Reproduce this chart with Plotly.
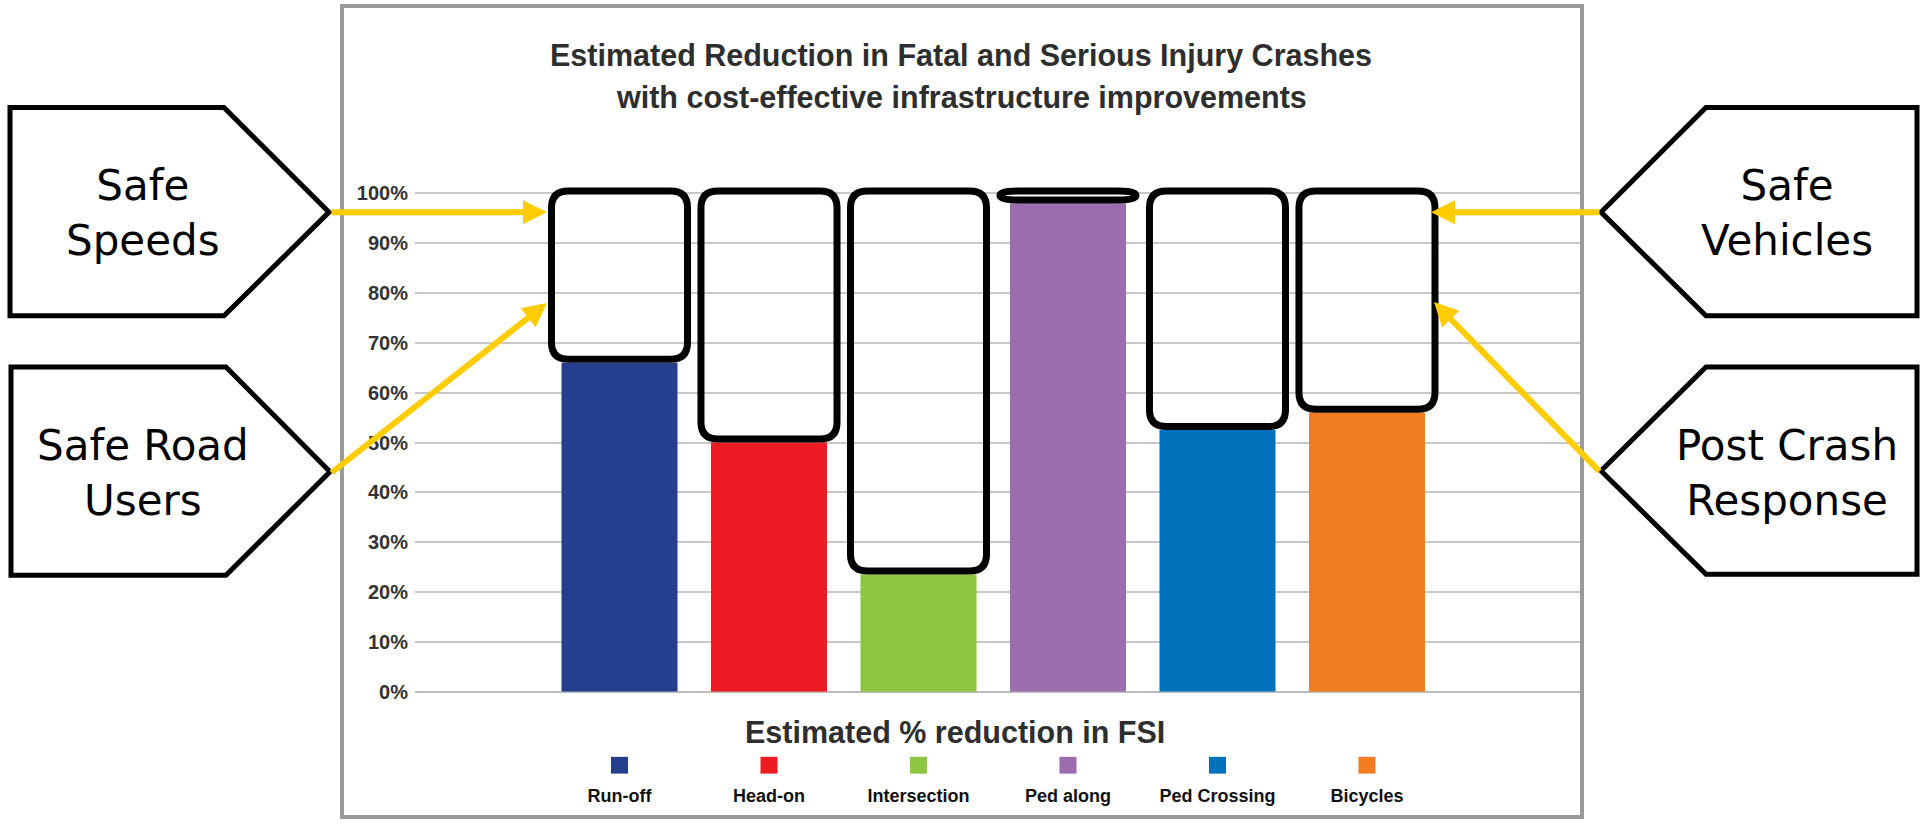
import plotly.graph_objects as go

# ---------------- data ----------------
categories = ["Run-off", "Head-on", "Intersection", "Ped along", "Ped Crossing", "Bicycles"]
reduction = [0.66, 0.50, 0.235, 0.98, 0.525, 0.56]
bar_colors = ["#253F8E", "#ED1C24", "#8DC63F", "#9B6CAE", "#0072BC", "#F27C22"]
y_ticks = [0.0, 0.1, 0.2, 0.3, 0.4, 0.5, 0.6, 0.7, 0.8, 0.9, 1.0]
title_lines = ["Estimated Reduction in Fatal and Serious Injury Crashes",
               "with cost-effective infrastructure improvements"]
x_title = "Estimated % reduction in FSI"
pillars_left = ["Safe<br>Speeds", "Safe Road<br>Users"]
pillars_right = ["Safe<br>Vehicles", "Post Crash<br>Response"]

W, H = 1920, 830
CHART_FONT = "Liberation Sans"
BOX_FONT = "DejaVu Sans"


def px(x):
    return x / W


def py(y):
    return 1 - y / H


positions = list(range(len(categories)))

fig = go.Figure()

fig.add_trace(go.Bar(
    x=positions, y=reduction, marker=dict(color=bar_colors, line=dict(width=0)),
    width=0.776, hoverinfo="skip", showlegend=False,
))

shapes = []

# chart frame
shapes.append(dict(type="rect", xref="paper", yref="paper",
                   x0=px(342), x1=px(1582), y0=py(828), y1=py(6),
                   line=dict(color="#9a9a9a", width=4), fillcolor="rgba(0,0,0,0)", layer="below"))

# legend swatches above the category names
sw = 0.057
for p, c in zip(positions, bar_colors):
    shapes.append(dict(type="rect", xref="x", yref="paper",
                       x0=p - sw, x1=p + sw, y0=py(784), y1=py(767),
                       line=dict(width=0), fillcolor=c, layer="above"))

# rounded boxes covering the remaining gap to 100%
half_w = 0.455
rx, ry_full = 0.114, 0.0337
top = 1.005
for p, v in zip(positions, reduction):
    x0, x1 = p - half_w, p + half_w
    y0, y1 = v + 0.007, top
    ry = min(ry_full, (y1 - y0) / 2)
    path = (f"M {x0 + rx},{y0} L {x1 - rx},{y0} Q {x1},{y0} {x1},{y0 + ry} "
            f"L {x1},{y1 - ry} Q {x1},{y1} {x1 - rx},{y1} L {x0 + rx},{y1} "
            f"Q {x0},{y1} {x0},{y1 - ry} L {x0},{y0 + ry} Q {x0},{y0} {x0 + rx},{y0} Z")
    shapes.append(dict(type="path", xref="x", yref="y", path=path,
                       line=dict(color="black", width=7), fillcolor="rgba(0,0,0,0)", layer="above"))


def pentagon(points):
    d = "M " + " L ".join(f"{px(x)},{py(y)}" for x, y in points) + " Z"
    return dict(type="path", xref="paper", yref="paper", path=d,
                line=dict(color="black", width=5), fillcolor="white", layer="above")


left_boxes = [[(10, 109), (224, 109), (329, 215), (224, 320), (10, 320)],
              [(11, 372), (226, 372), (330, 478), (226, 583), (11, 583)]]
right_boxes = [[(1601, 215), (1706, 109), (1917, 109), (1917, 320), (1706, 320)],
               [(1601, 477), (1706, 372), (1917, 372), (1917, 582), (1706, 582)]]
for pts in left_boxes + right_boxes:
    shapes.append(pentagon(pts))

annotations = []

# two-line chart title
for txt, cy in zip(title_lines, [56.5, 98.5]):
    annotations.append(dict(xref="paper", yref="paper", x=px(961), y=py(cy),
                            text=txt, showarrow=False, xanchor="center", yanchor="middle",
                            font=dict(family=CHART_FONT, size=30.5, color="#2e2e2e", weight=700)))

# axis title between the axis and the legend
annotations.append(dict(xref="paper", yref="paper", x=px(955), y=py(742),
                        text=x_title, showarrow=False, xanchor="center", yanchor="middle",
                        font=dict(family=CHART_FONT, size=30.5, color="#2e2e2e", weight=700)))

# pillar labels
for txt, cy in zip(pillars_left, [216, 479]):
    annotations.append(dict(xref="paper", yref="paper", x=px(143), y=py(cy), text=txt,
                            showarrow=False, xanchor="center", yanchor="middle",
                            font=dict(family=BOX_FONT, size=42, color="black")))
for txt, cy in zip(pillars_right, [216, 479]):
    annotations.append(dict(xref="paper", yref="paper", x=px(1787), y=py(cy), text=txt,
                            showarrow=False, xanchor="center", yanchor="middle",
                            font=dict(family=BOX_FONT, size=42, color="black")))

# yellow arrows (tail -> head)
arrows = [((330, 215), (547, 215)), ((330, 478), (547, 307)),
          ((1601, 215), (1431, 215)), ((1601, 477), (1434, 306))]
for (tx, ty), (hx, hy) in arrows:
    annotations.append(dict(xref="paper", yref="paper", x=px(hx), y=py(hy),
                            ax=tx - hx, ay=ty - hy, axref="pixel", ayref="pixel",
                            text="", showarrow=True, arrowhead=2, arrowsize=0.8,
                            arrowwidth=6, arrowcolor="#FFCC00", standoff=0, startstandoff=0))

fig.update_layout(
    width=W, height=H,
    margin=dict(l=0, r=0, t=0, b=0),
    paper_bgcolor="white", plot_bgcolor="white",
    showlegend=False,
    xaxis=dict(domain=[px(415), px(1580)], range=[-1.368, 6.425],
               showgrid=False, zeroline=False, showline=False,
               tickmode="array", tickvals=positions, ticktext=categories,
               ticks="", ticklabelstandoff=91,
               tickfont=dict(family=CHART_FONT, size=18, color="#111111", weight=700),
               fixedrange=True),
    yaxis=dict(domain=[py(701), py(175.8)], range=[0, 1.04],
               tickmode="array", tickvals=y_ticks, tickformat=".0%",
               showgrid=True, gridcolor="#c8c8c8", gridwidth=2,
               zeroline=True, zerolinecolor="#bdbdbd", zerolinewidth=2,
               showline=False, ticks="", ticklabelstandoff=6,
               tickfont=dict(family=CHART_FONT, size=20, color="#333333", weight=700),
               fixedrange=True),
    shapes=shapes,
    annotations=annotations,
)

# the default page body has an 8px margin; remove it so the figure fills the window exactly
no_margin = ("document.body.style.margin='0';"
             "document.body.style.padding='0';"
             "document.documentElement.style.overflow='hidden';")
fig.write_html("out.html", post_script=no_margin)
